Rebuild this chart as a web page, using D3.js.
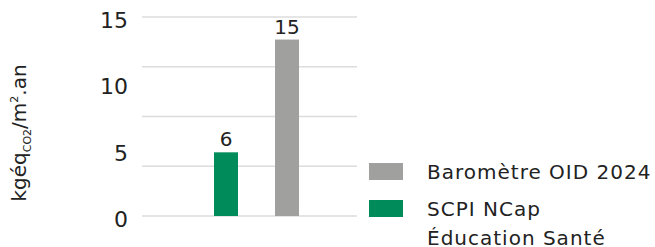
<!DOCTYPE html>
<html>
<head>
<meta charset="utf-8">
<script src="https://cdn.jsdelivr.net/npm/d3@7"></script>
<style>
  body { margin: 0; background: #fff; }
  svg { display: block; font-family: 'DejaVu Sans', sans-serif; }
</style>
</head>
<body>
<div id="chart"></div>
<script>
// series (bar height) and the printed labels
const series = ['SCPI NCap Éducation Santé', 'Baromètre OID 2024'];
const values = [4.8, 13.3];
const valueLabels = ['6', '15'];
const colors = ['#008c5a', '#a0a09f'];
const tickValues = [0, 5, 10, 15];
const gridValues = [0, 3.75, 7.5, 11.25, 15];
const legendItems = [
    { lines: ['Baromètre OID 2024'], color: '#a0a09f' },
    { lines: ['SCPI NCap', 'Éducation Santé'], color: '#008c5a' }
];

const width = 655, height = 247;
const svg = d3.select('#chart').append('svg')
    .attr('width', width)
    .attr('height', height);

const y = d3.scaleLinear().domain([0, 15]).range([216, 17]);
const x = d3.scaleBand()
    .domain(series)
    .range([214, 299])
    .paddingInner(0.6066)
    .paddingOuter(0);

// gridlines
svg.append('g')
    .selectAll('line')
    .data(gridValues)
    .enter()
    .append('line')
    .attr('x1', 142)
    .attr('x2', 357)
    .attr('y1', d => y(d))
    .attr('y2', d => y(d))
    .attr('stroke', '#dcdcdc')
    .attr('stroke-width', 1.5);

// y tick labels
svg.append('g')
    .selectAll('text')
    .data(tickValues)
    .enter()
    .append('text')
    .attr('x', 128)
    .attr('y', d => y(d) + 3)
    .attr('dy', '0.36em')
    .attr('text-anchor', 'end')
    .attr('font-size', 22)
    .attr('fill', '#222')
    .text(d => d);

// bars
svg.append('g')
    .selectAll('rect')
    .data(series)
    .enter()
    .append('rect')
    .attr('x', d => x(d))
    .attr('width', x.bandwidth())
    .attr('y', (d, i) => y(values[i]))
    .attr('height', (d, i) => y(0) - y(values[i]))
    .attr('fill', (d, i) => colors[i]);

// value labels
svg.append('g')
    .selectAll('text')
    .data(series)
    .enter()
    .append('text')
    .attr('x', d => x(d) + x.bandwidth() / 2)
    .attr('y', (d, i) => y(values[i]) - 6)
    .attr('text-anchor', 'middle')
    .attr('font-size', 20)
    .attr('fill', '#222')
    .text((d, i) => valueLabels[i]);

// y axis title
const title = svg.append('text')
    .attr('transform', 'translate(26, 133) rotate(-90)')
    .attr('text-anchor', 'middle')
    .attr('font-size', 20)
    .attr('fill', '#222');
title.append('tspan').text('kgéq');
title.append('tspan').attr('font-size', 11).attr('dy', 5).text('CO2');
title.append('tspan').attr('dy', -5).text('/m');
title.append('tspan').attr('font-size', 11).attr('dy', -8).text('2');
title.append('tspan').attr('dy', 8).text('.an');

// legend
const legend = svg.append('g');
const rowY = [163, 200];
legendItems.forEach((item, i) => {
    legend.append('rect')
        .attr('x', 369)
        .attr('y', rowY[i])
        .attr('width', 34)
        .attr('height', 17)
        .attr('fill', item.color);
    item.lines.forEach((line, j) => {
        legend.append('text')
            .attr('x', 427)
            .attr('y', rowY[i] + 16 + j * 29)
            .attr('font-size', 20)
            .attr('letter-spacing', 1)
            .attr('fill', '#222')
            .text(line);
    });
});
</script>
</body>
</html>
